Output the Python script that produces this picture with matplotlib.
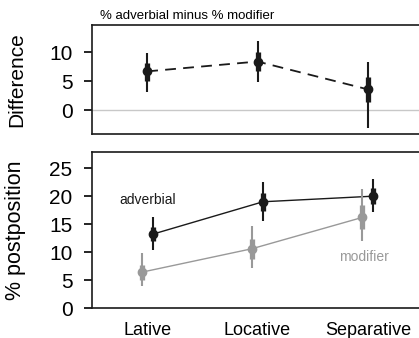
import numpy as np
import matplotlib
matplotlib.use('Agg')
import matplotlib.pyplot as plt

plt.rcParams['font.family'] = ['Liberation Sans', 'DejaVu Sans']

# Datos
categorias = ['Lative', 'Locative', 'Separative']

dif = [6.7, 8.4, 3.6]
dif_fino_lo = [3.2, 4.9, -3.0]
dif_fino_hi = [9.9, 11.9, 8.4]
dif_grueso_lo = [5.1, 6.8, 1.5]
dif_grueso_hi = [8.1, 10.0, 5.8]

adv = [13.2, 19.0, 20.0]
adv_fino_lo = [10.4, 15.6, 17.1]
adv_fino_hi = [16.2, 22.6, 23.1]
adv_grueso_lo = [12.0, 17.4, 18.6]
adv_grueso_hi = [14.4, 20.6, 21.4]

mod = [6.4, 10.6, 16.2]
mod_fino_lo = [3.9, 7.1, 11.9]
mod_fino_hi = [9.8, 14.6, 21.2]
mod_grueso_lo = [5.0, 8.8, 14.1]
mod_grueso_hi = [7.7, 12.3, 18.4]

negro = '#1a1a1a'
gris = '#999999'

x = np.arange(1, 4)

fig = plt.figure(figsize=(4.19, 3.38), dpi=100)
ax1 = fig.add_axes([92/419, 1-134/338, (423-92)/419, (134-25)/338])
ax2 = fig.add_axes([92/419, 1-308/338, (423-92)/419, (308-152)/338])


def intervalos(ax, xs, y, flo, fhi, glo, ghi, color):
    ax.vlines(xs, flo, fhi, color=color, lw=1.5, zorder=3)
    ax.vlines(xs, glo, ghi, color=color, lw=3.8, zorder=3)
    ax.plot(xs, y, 'o', color=color, ms=6, zorder=4)


# Panel de arriba: diferencia
ax1.axhline(0, color='#c8c8c8', lw=1, zorder=1)
ax1.plot(x, dif, '--', color=negro, lw=1.3, dashes=(6, 4), zorder=2)
intervalos(ax1, x, dif, dif_fino_lo, dif_fino_hi, dif_grueso_lo, dif_grueso_hi, negro)
ax1.set_xlim(0.5, 3.5)
ax1.set_ylim(-4.1, 14.7)
ax1.set_yticks([0, 5, 10])
ax1.set_xticks([])
ax1.set_ylabel('Difference', fontsize=15)
ax1.yaxis.set_label_coords(-0.2, 0.5)
ax1.text(0.024, 1.03, '% adverbial minus % modifier', transform=ax1.transAxes,
         fontsize=9.5, ha='left', va='bottom')

# Panel de abajo: % postposicion
off = 0.05
ax2.plot(x - off, mod, '-', color=gris, lw=1, zorder=2)
ax2.plot(x + off, adv, '-', color=negro, lw=1, zorder=2)
intervalos(ax2, x - off, mod, mod_fino_lo, mod_fino_hi, mod_grueso_lo, mod_grueso_hi, gris)
intervalos(ax2, x + off, adv, adv_fino_lo, adv_fino_hi, adv_grueso_lo, adv_grueso_hi, negro)
ax2.set_xlim(0.5, 3.5)
ax2.set_ylim(0, 27.9)
ax2.set_yticks([0, 5, 10, 15, 20, 25])
ax2.set_xticks(x)
ax2.set_xticklabels(categorias)
ax2.set_ylabel('% postposition', fontsize=15.5)
ax2.yaxis.set_label_coords(-0.2, 0.5)
ax2.text(0.75, 19.4, 'adverbial', color=negro, fontsize=10, ha='left', va='center')
ax2.text(2.74, 9.2, 'modifier', color=gris, fontsize=10, ha='left', va='center')

for ax in (ax1, ax2):
    for s in ax.spines.values():
        s.set_linewidth(1.2)
        s.set_color(negro)
    ax.tick_params(axis='y', labelsize=15, length=6, width=1.2, pad=8)
    ax.tick_params(axis='x', labelsize=13, length=0, pad=10)

plt.savefig('out.png', dpi=100)
